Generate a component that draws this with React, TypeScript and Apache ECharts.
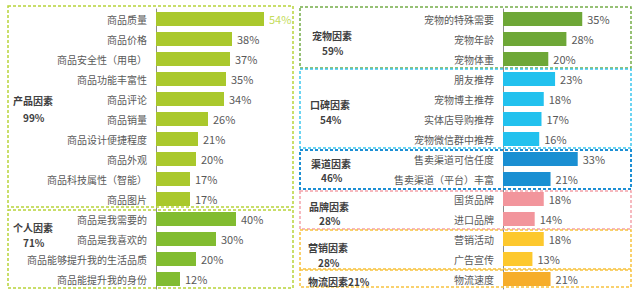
import React, { useEffect, useRef } from "react";
import * as echarts from "echarts";

const leftCats = [
  "商品质量", "商品价格", "商品安全性（用电）", "商品功能丰富性", "商品评论", "商品销量",
  "商品设计便捷程度", "商品外观", "商品科技属性（智能）", "商品图片",
  "商品是我需要的", "商品是我喜欢的", "商品能够提升我的生活品质", "商品能提升我的身份",
];
const leftVals = [54, 38, 37, 35, 34, 26, 21, 20, 17, 17, 40, 30, 20, 12];
const leftGroupOf = [0, 0, 0, 0, 0, 0, 0, 0, 0, 0, 1, 1, 1, 1];
const leftColors = ["#aac82c", "#82bc30"];

const rightCats = [
  "宠物的特殊需要", "宠物年龄", "宠物体重", "朋友推荐", "宠物博主推荐", "实体店导购推荐",
  "宠物微信群中推荐", "售卖渠道可信任度", "售卖渠道（平台）丰富", "国货品牌", "进口品牌",
  "营销活动", "广告宣传", "物流速度",
];
const rightVals = [35, 28, 20, 23, 18, 17, 16, 33, 21, 18, 14, 18, 13, 21];
const rightGroupOf = [0, 0, 0, 1, 1, 1, 1, 2, 2, 3, 3, 4, 4, 5];
const rightColors = ["#6ea737", "#22c1ee", "#1a8fd2", "#f2959c", "#fdc82d", "#f6ad2b"];

const leftGroupNames = ["产品因素", "个人因素"];
const leftGroupPcts = ["99%", "71%"];
const rightGroupNames = ["宠物因素", "口碑因素", "渠道因素", "品牌因素", "营销因素"];
const rightGroupPcts = ["59%", "54%", "46%", "28%", "28%"];
const logisticsTitle = "物流因素21%";

const FONT = "'Noto Sans CJK SC', 'Noto Sans', sans-serif";

export default function App() {
  const ref = useRef<HTMLDivElement>(null);
  useEffect(() => {
    if (!ref.current) return;
    const chart = echarts.init(ref.current, null, { renderer: "svg" });

    const leftData = leftVals.map((v, i) => {
      const item: any = { value: v, itemStyle: { color: leftColors[leftGroupOf[i]] } };
      if (i === 0) item.label = { color: "#c4dc5a" };
      return item;
    });
    const rightData = rightVals.map((v, i) => ({
      value: v,
      itemStyle: { color: rightColors[rightGroupOf[i]] },
    }));

    const box = (x: number, y: number, w: number, h: number, color: string, lw = 1.5) => ({
      type: "rect",
      shape: { x, y, width: w, height: h },
      style: { fill: "none", stroke: color, lineWidth: lw, lineDash: [3, 2] },
      silent: true,
      z: 10,
    });
    const txt = (x: number, y: number, text: string) => ({
      type: "text",
      x,
      y,
      style: {
        text,
        fill: "#404040",
        font: `bold 10px ${FONT}`,
        align: "left",
        verticalAlign: "middle",
      },
      z: 11,
    });

    const labelStyle = {
      show: true,
      position: "right",
      distance: 5,
      formatter: "{c}%",
      color: "#595959",
      fontSize: 11,
      fontFamily: FONT,
    };

    const yAxisCommon = {
      type: "category",
      inverse: true,
      axisLine: { show: true, lineStyle: { color: "#8c8c8c", width: 1 } },
      axisTick: { show: false },
      axisLabel: { color: "#595959", fontSize: 10, fontFamily: FONT, margin: 9 },
    };

    chart.setOption({
      animation: false,
      grid: [
        { left: 156, top: 9, width: 130, height: 280 },
        { left: 503, top: 9, width: 120, height: 280 },
      ],
      xAxis: [
        { type: "value", gridIndex: 0, min: 0, max: 65, show: false },
        { type: "value", gridIndex: 1, min: 0, max: 53, show: false },
      ],
      yAxis: [
        { ...yAxisCommon, gridIndex: 0, data: leftCats },
        { ...yAxisCommon, gridIndex: 1, data: rightCats },
      ],
      series: [
        {
          type: "bar",
          xAxisIndex: 0,
          yAxisIndex: 0,
          data: leftData,
          barWidth: 14,
          label: labelStyle,
        },
        {
          type: "bar",
          xAxisIndex: 1,
          yAxisIndex: 1,
          data: rightData,
          barWidth: 14,
          label: labelStyle,
        },
      ],
      graphic: [
        box(8, 6, 285, 201, "#b8d43a"),
        box(8, 210, 285, 78, "#b8d43a"),
        box(300, 7, 331, 61, "#74ad48"),
        box(300, 69, 331, 79, "#3cc6ee"),
        box(300, 150, 331, 39, "#1e8fd4", 2),
        box(300, 191, 331, 38, "#f4a3aa"),
        box(300, 230, 331, 39, "#f8c23e", 1.5),
        box(300, 270, 331, 17, "#f8c23e", 1.5),
        txt(13, 100, leftGroupNames[0]),
        txt(23, 117, leftGroupPcts[0]),
        txt(13, 227, leftGroupNames[1]),
        txt(23, 242, leftGroupPcts[1]),
        txt(312, 35, rightGroupNames[0]),
        txt(322, 50, rightGroupPcts[0]),
        txt(310, 104, rightGroupNames[1]),
        txt(320, 119, rightGroupPcts[1]),
        txt(311, 163, rightGroupNames[2]),
        txt(321, 177, rightGroupPcts[2]),
        txt(309, 206, rightGroupNames[3]),
        txt(319, 220, rightGroupPcts[3]),
        txt(308, 247, rightGroupNames[4]),
        txt(318, 262, rightGroupPcts[4]),
        txt(308, 281, logisticsTitle),
      ],
    });
    return () => chart.dispose();
  }, []);
  return (
    <div
      ref={ref}
      style={{ position: "fixed", left: 0, top: 0, width: 640, height: 295, background: "#fff" }}
    />
  );
}
